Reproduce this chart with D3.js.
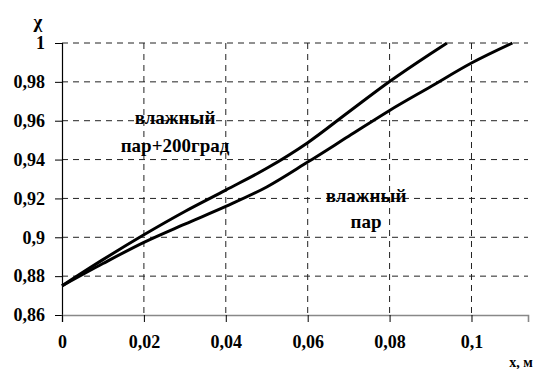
<!DOCTYPE html>
<html>
<head>
<meta charset="utf-8">
<script src="https://cdn.jsdelivr.net/npm/d3@7"></script>
<style>
  html, body { margin: 0; padding: 0; background: #fff; }
  svg { display: block; }
</style>
</head>
<body>
<svg id="chart" width="541" height="369"></svg>
<script>
// Steam dryness fraction along the channel length
const xTicks = [0, 0.02, 0.04, 0.06, 0.08, 0.1];
const yTicks = [0.86, 0.88, 0.9, 0.92, 0.94, 0.96, 0.98, 1];

// wet steam heated by +200 degrees
const xHot = [0, 0.01, 0.02, 0.03, 0.04, 0.05, 0.06, 0.07, 0.08, 0.09, 0.094];
const chiHot = [0.875, 0.8885, 0.9013, 0.9133, 0.9243, 0.9355, 0.9487, 0.9645, 0.9802, 0.9945, 1.0];

// wet steam
const xWet = [0, 0.01, 0.02, 0.03, 0.04, 0.05, 0.06, 0.07, 0.08, 0.09, 0.1, 0.11];
const chiWet = [0.875, 0.8865, 0.8974, 0.9068, 0.9159, 0.9259, 0.9387, 0.952, 0.9653, 0.9775, 0.9897, 1.0];

const fmt = d => String(d).replace(".", ",");
const FONT = '"Liberation Serif"';

const svg = d3.select("#chart");
const plotLeft = 62, plotRight = 528, plotTop = 43, plotBottom = 315;

const x = d3.scaleLinear().domain([0, 0.1138]).range([plotLeft, plotRight]);
const y = d3.scaleLinear().domain([0.86, 1]).range([plotBottom, plotTop]);

// dashed grid
svg.append("g").selectAll("line")
  .data(yTicks.filter(d => d > 0.86))
  .join("line")
  .attr("x1", plotLeft).attr("x2", plotRight)
  .attr("y1", d => y(d)).attr("y2", d => y(d))
  .attr("stroke", "#222").attr("stroke-width", 1)
  .attr("stroke-dasharray", "6,5");

svg.append("g").selectAll("line")
  .data(xTicks.filter(d => d > 0))
  .join("line")
  .attr("x1", d => x(d)).attr("x2", d => x(d))
  .attr("y1", plotTop).attr("y2", plotBottom)
  .attr("stroke", "#222").attr("stroke-width", 1)
  .attr("stroke-dasharray", "6,5");

// y axis
const yAxis = d3.axisLeft(y).tickValues(yTicks).tickSize(7).tickFormat(fmt).tickPadding(10);
const gy = svg.append("g").attr("transform", `translate(${plotLeft},0)`).call(yAxis)
  .attr("font-family", "Liberation Serif").attr("font-size", 18).attr("font-weight", "bold");
gy.select(".domain").attr("stroke", "#000").attr("stroke-width", 1.2);
gy.selectAll(".tick line").attr("stroke", "#000");
gy.selectAll(".tick text")
  .style("font-family", FONT).style("font-weight", "bold")
  .style("font-size", "18px").attr("fill", "#000");

// x axis
const xAxis = d3.axisBottom(x).tickValues(xTicks).tickSize(7).tickFormat(fmt).tickPadding(13);
const gx = svg.append("g").attr("transform", `translate(0,${plotBottom})`).call(xAxis)
  .attr("font-family", "Liberation Serif").attr("font-size", 18).attr("font-weight", "bold");
gx.select(".domain").attr("stroke", "#888").attr("stroke-width", 1.6);
gx.selectAll(".tick line").attr("stroke", "#000");
gx.selectAll(".tick text")
  .style("font-family", FONT).style("font-weight", "bold")
  .style("font-size", "18px").attr("fill", "#000");

// curves
const line = d3.line().x(d => x(d[0])).y(d => y(d[1])).curve(d3.curveMonotoneX);
svg.append("path")
  .attr("d", line(d3.zip(xHot, chiHot)))
  .attr("fill", "none").attr("stroke", "#000").attr("stroke-width", 3);
svg.append("path")
  .attr("d", line(d3.zip(xWet, chiWet)))
  .attr("fill", "none").attr("stroke", "#000").attr("stroke-width", 3);

// labels
const lbl = (t, cx, cy, size) => svg.append("text")
  .attr("x", cx).attr("y", cy).attr("text-anchor", "middle")
  .attr("dominant-baseline", "central")
  .style("font-family", FONT).style("font-weight", "bold")
  .style("font-size", size + "px").text(t);

lbl("влажный", 175, 117, 19);
lbl("пар+200град", 175, 145, 19);
lbl("влажный", 366, 195, 19);
lbl("пар", 366, 221, 19);

lbl("χ", 38, 21, 19);
lbl("x, м", 521, 362, 14);
</script>
</body>
</html>
